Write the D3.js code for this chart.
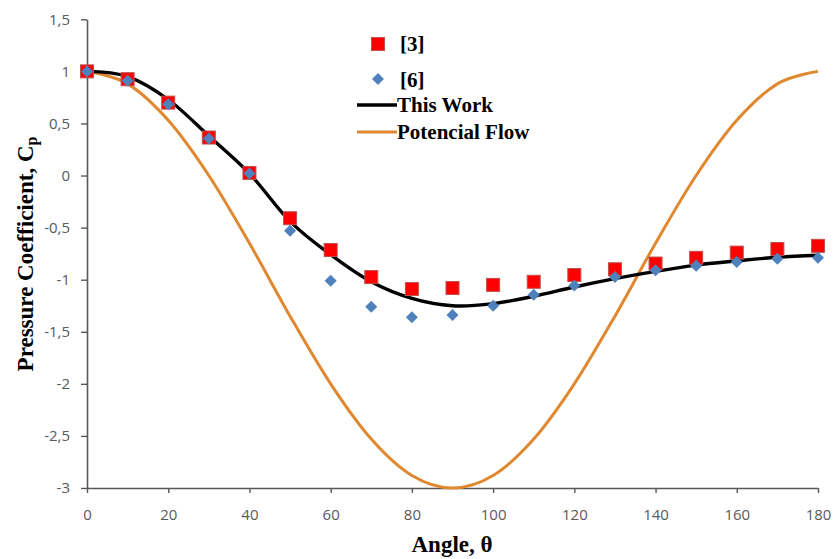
<!DOCTYPE html>
<html><head><meta charset="utf-8">
<script src="https://cdn.jsdelivr.net/npm/d3@7"></script>
<style>body{margin:0;background:#fff}svg{display:block}</style>
</head><body>
<script>
const angles = [0,10,20,30,40,50,60,70,80,90,100,110,120,130,140,150,160,170,180];
const ref3 = [1.0,0.925,0.70,0.365,0.025,-0.41,-0.715,-0.975,-1.09,-1.08,-1.05,-1.02,-0.955,-0.90,-0.845,-0.79,-0.74,-0.705,-0.675];
const ref6 = [1.0,0.91,0.685,0.355,0.02,-0.53,-1.01,-1.26,-1.36,-1.34,-1.25,-1.145,-1.055,-0.975,-0.91,-0.865,-0.83,-0.80,-0.79];
const thisWork = [1.0,0.95,0.73,0.38,0.02,-0.44,-0.76,-1.02,-1.18,-1.25,-1.23,-1.16,-1.07,-0.99,-0.92,-0.86,-0.82,-0.785,-0.765];
const potFlow = [1.0,0.88,0.53,0.0,-0.65,-1.35,-2.0,-2.53,-2.88,-3.0,-2.88,-2.53,-2.0,-1.35,-0.65,0.0,0.53,0.88,1.0];
const xTicks = [0,20,40,60,80,100,120,140,160,180];
const yTicks = [1.5,1,0.5,0,-0.5,-1,-1.5,-2,-2.5,-3];
const legendLabels = ["[3]","[6]","This Work","Potencial Flow"];

const W=834,H=559;
const svg=d3.select("body").append("svg").attr("width",W).attr("height",H);
const x=d3.scaleLinear().domain([0,180]).range([87,818]);
const y=d3.scaleLinear().domain([-3,1.5]).range([488,19.3]);
const axisCol="#595959";
const fmt=d=>String(d).replace(".",",");

const gx=svg.append("g").attr("transform","translate(0,488)")
  .call(d3.axisBottom(x).tickValues(xTicks).tickSize(5).tickPadding(16).tickSizeOuter(0));
const gy=svg.append("g").attr("transform","translate(87,0)")
  .call(d3.axisLeft(y).tickValues(yTicks).tickFormat(fmt).tickSize(6).tickPadding(11).tickSizeOuter(0));
[gx,gy].forEach(g=>{
  g.select(".domain").attr("stroke",axisCol).attr("stroke-width",1.6);
  g.selectAll(".tick line").attr("stroke",axisCol).attr("stroke-width",1.4);
  g.selectAll(".tick text").attr("fill",axisCol).style("font-family","'Open Sans', sans-serif").style("font-size","15px");
});

const pts=(arr)=>angles.map((a,i)=>[a,arr[i]]);
const line=d3.line().x(d=>x(d[0])).y(d=>y(d[1])).curve(d3.curveCatmullRom.alpha(0));
svg.append("path").attr("d",line(pts(potFlow))).attr("fill","none").attr("stroke","#E0882F").attr("stroke-width",3);
svg.append("path").attr("d",line(pts(thisWork))).attr("fill","none").attr("stroke","#000").attr("stroke-width",3.4);

const sq=13;
svg.append("g").selectAll("rect").data(pts(ref3)).join("rect")
  .attr("x",d=>x(d[0])-sq/2).attr("y",d=>y(d[1])-sq/2).attr("width",sq).attr("height",sq)
  .attr("fill","#FF0000").attr("stroke","#C0504D").attr("stroke-width",1);
const diamond=d3.symbol().type(d3.symbolDiamond2).size(92);
svg.append("g").selectAll("path").data(pts(ref6)).join("path")
  .attr("transform",d=>`translate(${x(d[0])},${y(d[1])})`).attr("d",diamond).attr("fill","#4F81BD");

// Legend
const lg=svg.append("g");
const serif="'Liberation Serif','Times New Roman',serif";
lg.append("rect").attr("x",378-sq/2).attr("y",44-sq/2).attr("width",sq).attr("height",sq).attr("fill","#FF0000").attr("stroke","#C0504D");
lg.append("path").attr("transform","translate(378,79)").attr("d",diamond).attr("fill","#4F81BD");
lg.append("line").attr("x1",357).attr("x2",397).attr("y1",105).attr("y2",105).attr("stroke","#000").attr("stroke-width",3.4);
lg.append("line").attr("x1",357).attr("x2",397).attr("y1",132).attr("y2",132).attr("stroke","#E0882F").attr("stroke-width",3);
const ly=[44,80,105,132];
lg.selectAll("text").data(legendLabels).join("text")
  .attr("x",(d,i)=>i<2?400:397).attr("y",(d,i)=>ly[i]+7)
  .style("font-family",serif).style("font-weight","bold").style("font-size","21px").attr("fill","#000").text(d=>d);

// Axis titles
svg.append("text").attr("x",452).attr("y",552).attr("text-anchor","middle")
  .style("font-family",serif).style("font-weight","bold").style("font-size","23px").text("Angle, θ");
const yt=svg.append("text").attr("transform","translate(33,254) rotate(-90)").attr("text-anchor","middle")
  .style("font-family",serif).style("font-weight","bold").style("font-size","23px");
yt.append("tspan").text("Pressure Coefficient, C");
yt.append("tspan").attr("dy",4).style("font-size","16px").text("p");
</script>
</body></html>
